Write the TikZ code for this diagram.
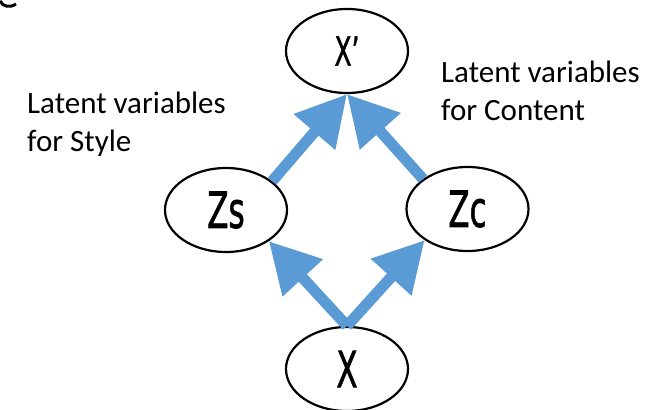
\documentclass[tikz,border=0pt]{standalone}
\usepackage{fontspec}
\usepackage{graphicx}
\setmainfont{Carlito}
\newfontfamily\nodefont{DejaVu Sans}[FakeBold=1.5]
\usetikzlibrary{shapes.geometric,arrows.meta}
\definecolor{arrowblue}{HTML}{5B9BD5}
\begin{document}
\begin{tikzpicture}[x=1pt,y=-1pt,
  var/.style={draw=black, line width=2.2pt, ellipse, minimum width=122pt, minimum height=84pt, inner sep=0pt, font=\nodefont},
  link/.style={draw=arrowblue, line width=11pt, -{Triangle[length=50pt,width=52pt]}},
  lab/.style={inner sep=0pt, anchor=base west, font=\fontsize{31}{38}\selectfont}]
\useasboundingbox (0,0) rectangle (665,410);
\node[var] (Xp) at (347,51) {\raisebox{-2pt}{\fontsize{40}{40}\selectfont\scalebox{0.62}[1]{X’}}};
\node[var] (Zs) at (226,210) {\raisebox{-3pt}{\fontsize{50}{50}\selectfont\scalebox{0.62}[1]{Zs}}};
\node[var] (Zc) at (467.5,209) {\raisebox{-3pt}{\fontsize{50}{50}\selectfont\scalebox{0.62}[1]{Zc}}};
\node[var] (X) at (347,369) {\raisebox{-3pt}{\fontsize{50}{50}\selectfont\scalebox{0.62}[1]{X}}};
\draw[link] (X.north) -- (Zs.-36);
\draw[link] (X.north) -- (Zc.216);
\draw[link] (Zs.32) -- (Xp.south);
\draw[link] (Zc.146) -- (Xp.south);
\node[lab] (s1) at (27,113) {Latent variables};
\node[lab] (s2) at (27,151) {for Style};
\node[lab] (c1) at (441,82) {Latent variables};
\node[lab] (c2) at (441,120) {for Content};
\draw[line width=3pt] (0,1) .. controls (3,7) and (10,8) .. (16,4);
\end{tikzpicture}
\end{document}
